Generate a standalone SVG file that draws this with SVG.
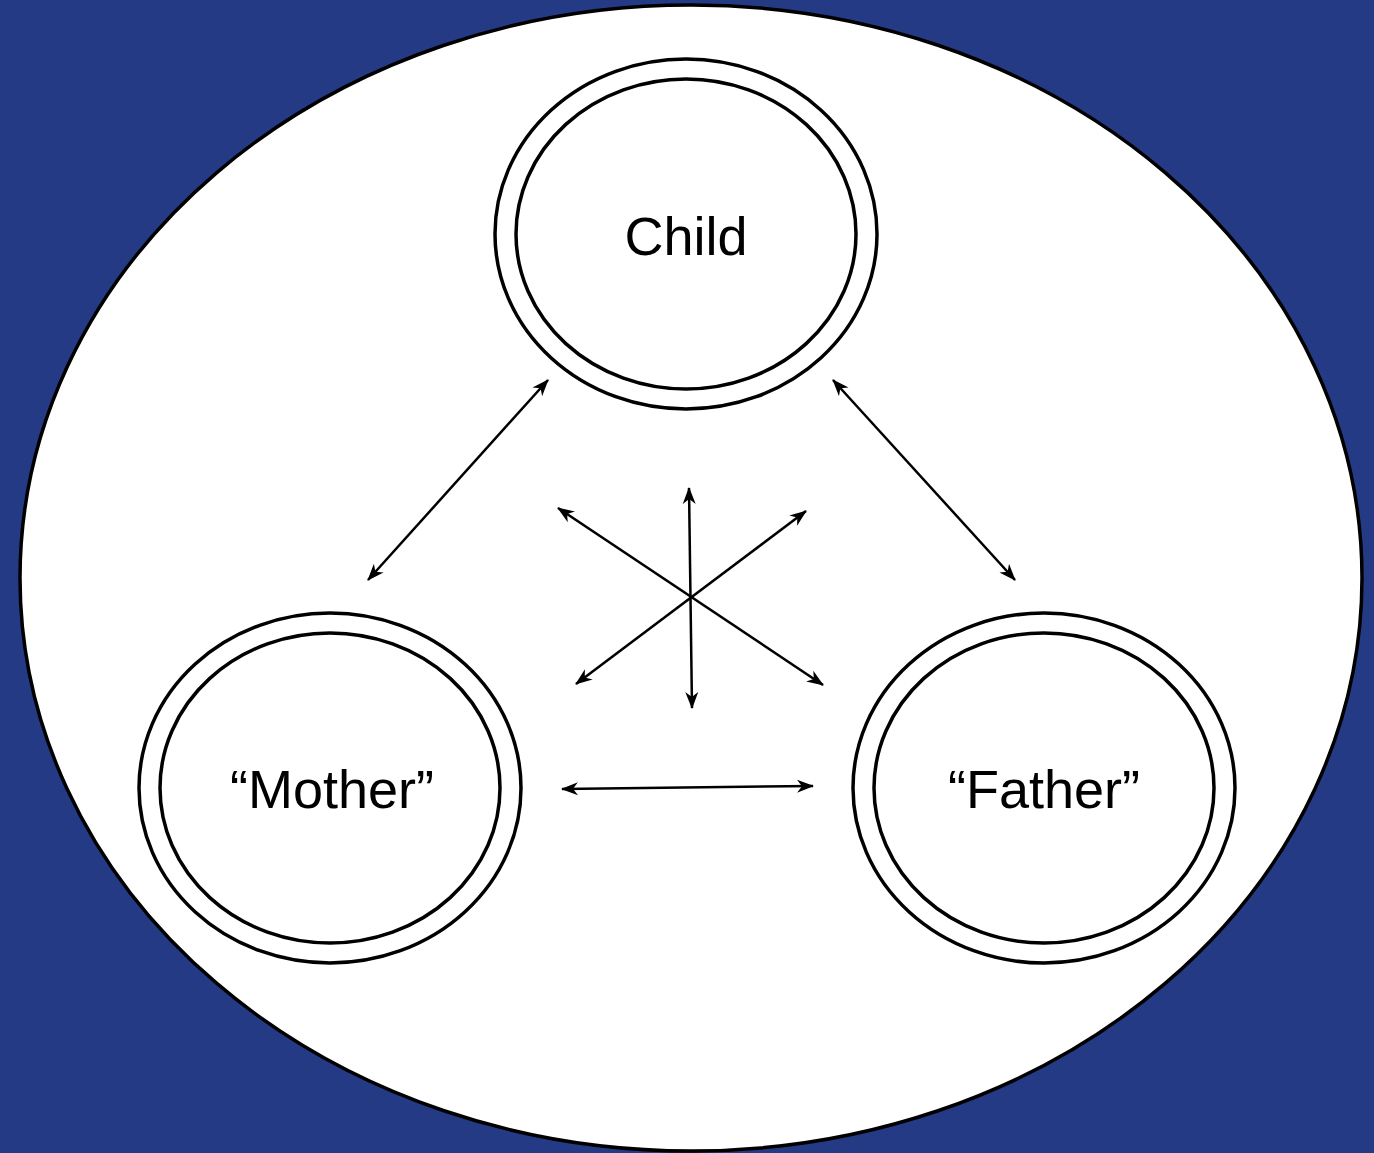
<svg xmlns="http://www.w3.org/2000/svg" width="1374" height="1153" viewBox="0 0 1374 1153">
<defs>
<style>
.ring{fill:none;stroke:#000;stroke-width:3.5}
.lbl{font-family:"Liberation Sans",Arial,sans-serif;font-size:54px;fill:#000;text-anchor:middle}
.conn{stroke:#000;stroke-width:2.5;fill:none;marker-start:url(#ah);marker-end:url(#ah)}
</style>
<marker id="ah" viewBox="0 0 17 14" refX="16" refY="7" markerWidth="17" markerHeight="14" markerUnits="userSpaceOnUse" orient="auto-start-reverse">
<path d="M0,0.5 L17,7 L0,13.5 L5,7 Z" fill="#000"/>
</marker>
</defs>
<rect width="1374" height="1153" fill="#253A85"/>
<ellipse id="outer" cx="691" cy="578" rx="671" ry="573" fill="#fff" stroke="#000" stroke-width="3.5"/>
<g id="connectors">
<line class="conn" x1="368" y1="580" x2="548" y2="380"/>
<line class="conn" x1="1015" y1="580" x2="833" y2="380"/>
<line class="conn" x1="562" y1="789" x2="813" y2="786"/>
<line class="conn" x1="689" y1="488" x2="692" y2="708"/>
<line class="conn" x1="558" y1="508" x2="823" y2="685"/>
<line class="conn" x1="806" y1="511" x2="576" y2="684"/>
</g>
<g id="child">
<ellipse class="ring" cx="686" cy="234" rx="191" ry="175"/>
<ellipse class="ring" cx="686" cy="234" rx="170" ry="155"/>
<text class="lbl" x="686" y="255">Child</text>
</g>
<g id="mother">
<ellipse class="ring" cx="330" cy="788" rx="191" ry="175"/>
<ellipse class="ring" cx="330" cy="788" rx="170" ry="155"/>
<text class="lbl" x="332" y="808">“Mother”</text>
</g>
<g id="father">
<ellipse class="ring" cx="1044" cy="788" rx="191" ry="175"/>
<ellipse class="ring" cx="1044" cy="788" rx="170" ry="155"/>
<text class="lbl" x="1044" y="808">“Father”</text>
</g>
</svg>
